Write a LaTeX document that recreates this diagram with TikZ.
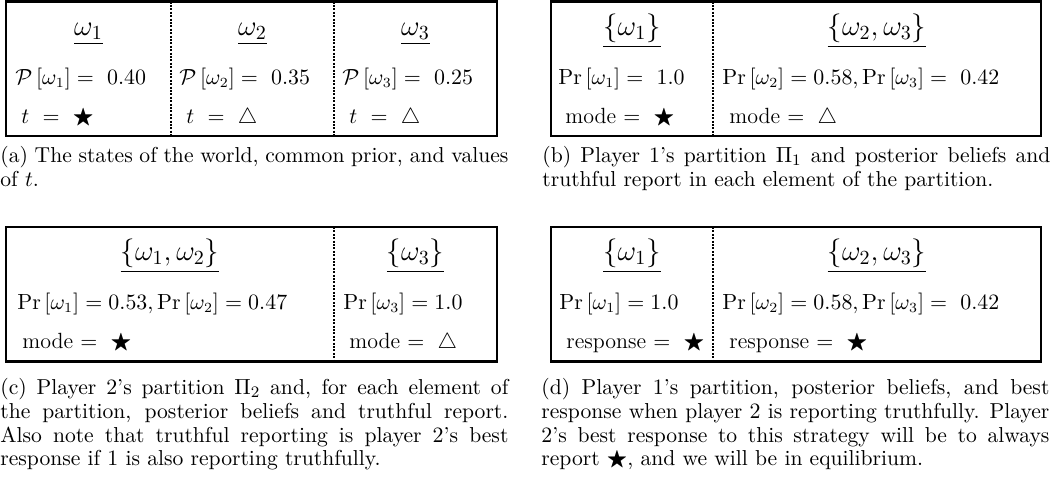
\documentclass[tikz,border=0pt]{standalone}
\usepackage{amsmath,amssymb}
\begin{document}
\begin{tikzpicture}[x=0.5pt,y=-0.5pt,
  panel/.style={line width=1.1pt},
  divider/.style={line width=1.2pt, dash pattern=on 1pt off 0.7pt},
  title/.style={font=\Large, anchor=base, inner sep=0pt},
  rowtext/.style={anchor=base west, inner sep=0pt, font=\fontsize{10.6}{12}\selectfont},
  moderow/.style={anchor=base west, inner sep=0pt, font=\fontsize{11}{12}\selectfont},
  captext/.style={anchor=north west, text width=254pt, align=justify, inner sep=0pt,
    font=\fontsize{10.8}{11.85}\selectfont}]
\useasboundingbox (0,0) rectangle (1052,477);
% ---------- panel (a)
\coordinate (a-nw) at (6,1.5); \coordinate (a-se) at (497,136);
\draw[panel] (a-nw) rectangle (a-se);
\draw[divider] (171,1.5) -- (171,136);
\draw[divider] (334,1.5) -- (334,136);
\node[title] (a-t1) at (88.5,35) {$\underline{\omega_1}$};
\node[title] (a-t2) at (252.5,35) {$\underline{\omega_2}$};
\node[title] (a-t3) at (415.5,35) {$\underline{\omega_3}$};
\node[rowtext] (a-p1) at (15,84) {$\mathcal{P}\left[\omega_1\right] =\ 0.40$};
\node[rowtext] (a-p2) at (179,84) {$\mathcal{P}\left[\omega_2\right] =\ 0.35$};
\node[rowtext] (a-p3) at (342,84) {$\mathcal{P}\left[\omega_3\right] =\ 0.25$};
\node[moderow] (a-m1) at (21,123) {$t\ =\ \bigstar$};
\node[moderow] (a-m2) at (186,123) {$t\ =\ \triangle$};
\node[moderow] (a-m3) at (349,123) {$t\ =\ \triangle$};
% ---------- panel (b)
\coordinate (b-nw) at (551,1.5); \coordinate (b-se) at (1041,136);
\draw[panel] (b-nw) rectangle (b-se);
\draw[divider] (713,1.5) -- (713,136);
\node[title] (b-t1) at (632,35) {$\underline{\{\omega_1\}}$};
\node[title] (b-t2) at (877,35) {$\underline{\{\omega_2,\omega_3\}}$};
\node[rowtext] (b-p1) at (558,84) {$\Pr\left[\omega_1\right] =\ 1.0$};
\node[rowtext] (b-p2) at (722,84) {$\Pr\left[\omega_2\right] = 0.58, \Pr\left[\omega_3\right] =\ 0.42$};
\node[moderow] (b-m1) at (565,123) {mode $=\ \bigstar$};
\node[moderow] (b-m2) at (729,123) {mode $=\ \triangle$};
% ---------- panel (c)
\coordinate (c-nw) at (6,227); \coordinate (c-se) at (497,361.5);
\draw[panel] (c-nw) rectangle (c-se);
\draw[divider] (334,227) -- (334,361.5);
\node[title] (c-t1) at (170,260.5) {$\underline{\{\omega_1,\omega_2\}}$};
\node[title] (c-t2) at (415.5,260.5) {$\underline{\{\omega_3\}}$};
\node[rowtext] (c-p1) at (17,309.5) {$\Pr\left[\omega_1\right] = 0.53, \Pr\left[\omega_2\right] = 0.47$};
\node[rowtext] (c-p2) at (343,309.5) {$\Pr\left[\omega_3\right] = 1.0$};
\node[moderow] (c-m1) at (22,348.5) {mode $=\ \bigstar$};
\node[moderow] (c-m2) at (349,348.5) {mode $=\ \triangle$};
% ---------- panel (d)
\coordinate (d-nw) at (551,227); \coordinate (d-se) at (1041,361.5);
\draw[panel] (d-nw) rectangle (d-se);
\draw[divider] (713,227) -- (713,361.5);
\node[title] (d-t1) at (632,260.5) {$\underline{\{\omega_1\}}$};
\node[title] (d-t2) at (877,260.5) {$\underline{\{\omega_2,\omega_3\}}$};
\node[rowtext] (d-p1) at (559,309.5) {$\Pr\left[\omega_1\right] = 1.0$};
\node[rowtext] (d-p2) at (722,309.5) {$\Pr\left[\omega_2\right] = 0.58, \Pr\left[\omega_3\right] =\ 0.42$};
\node[moderow] (d-m1) at (566,348.5) {response $=\ \bigstar$};
\node[moderow] (d-m2) at (729,348.5) {response $=\ \bigstar$};
% ---------- captions
\node[captext] (cap-a) at (0,146) {(a) The states of the world, common prior, and values\linebreak of $t$.};
\node[captext] (cap-b) at (542,146) {(b) Player $1$'s partition $\Pi_1$ and posterior beliefs and\linebreak truthful report in each element of the partition.};
\node[captext] (cap-c) at (0,378) {(c) Player $2$'s partition $\Pi_2$ and, for each element of\linebreak the partition, posterior beliefs and truthful report.\linebreak Also note that truthful reporting is player $2$'s best\linebreak response if $1$ is also reporting truthfully.};
\node[captext] (cap-d) at (541,378) {(d) Player $1$'s partition, posterior beliefs, and best\linebreak response when player $2$ is reporting truthfully. Player\linebreak $2$'s best response to this strategy will be to always\linebreak report $\bigstar$, and we will be in equilibrium.};
\end{tikzpicture}
\end{document}
